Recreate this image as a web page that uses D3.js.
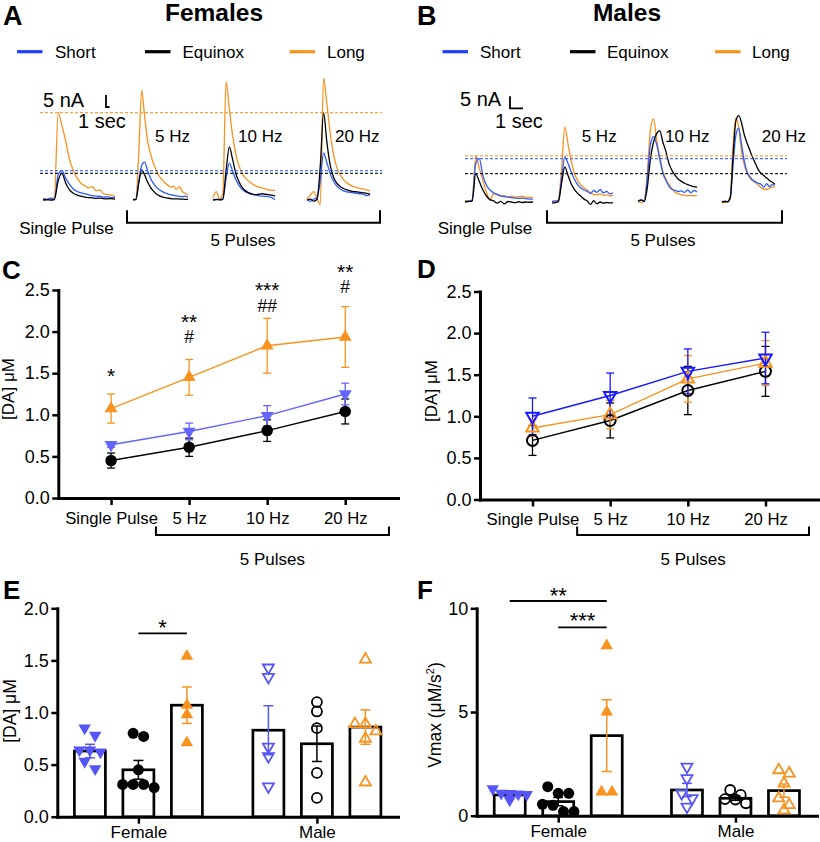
<!DOCTYPE html>
<html><head><meta charset="utf-8">
<script src="https://cdn.jsdelivr.net/npm/d3@7"></script>
<style>
body{margin:0;background:#fff;}
svg{display:block;font-family:"Liberation Sans",Arial,Helvetica,sans-serif;}
</style></head><body>
<svg id="fig" width="820" height="842"></svg>
<script>
// ================= DATA =================
const conditions = ["Short", "Equinox", "Long"];
const stimuli = ["Single Pulse", "5 Hz", "10 Hz", "20 Hz"];
const sexes = ["Female", "Male"];

// Panels A/B: representative FSCV traces (nA), one array per stimulation (Single, 5, 10, 20 Hz)
const femaleTraceShort = [
  [0.6, 0.3, 0.8, 0.2, 10.5, 12.2, 9.0, 6.5, 4.6, 3.6, 3.0, 2.6, 2.2, 1.8, 1.6, 1.5, 1.2, 1.3, 1.0, 1.1],
  [0.3, 0.4, 8.0, 14.5, 15.8, 12.5, 9.2, 7.0, 5.4, 4.4, 3.6, 3.0, 2.6, 2.2, 2.0, 1.7, 1.5, 1.4, 1.6, 1.2],
  [0.1, 0.3, 0.2, 0.4, 9.0, 15.4, 12.0, 8.5, 6.0, 4.4, 3.4, 2.8, 2.3, 2.0, 1.8, 1.6, 1.5, 1.4, 1.0, 0.2],
  [0.2, -0.6, 0.4, 0.8, 8.0, 19.6, 15.5, 11.0, 7.8, 5.8, 4.6, 3.8, 3.4, 3.2, 3.0, 2.8, 2.6, 2.4, 1.8, 2.2]
];
const femaleTraceEquinox = [
  [0.0, 0.1, 0.0, 0.2, 8.0, 11.1, 7.0, 4.2, 2.8, 2.0, 1.6, 1.2, 1.0, 0.9, 0.7, 0.8, 0.6, 0.5, 0.6, 0.4],
  [0.1, 0.2, 7.0, 12.5, 10.5, 7.6, 5.4, 3.8, 2.6, 1.8, 1.3, 1.0, 0.8, 0.6, 0.5, 0.5, 0.4, 0.4, 0.3, 0.3],
  [0.0, 0.2, 0.1, 0.3, 12.0, 22.1, 17.0, 11.0, 7.5, 5.2, 3.8, 3.0, 2.5, 2.2, 2.4, 2.6, 2.4, 2.2, 2.0, 1.6],
  [0.0, 0.4, -0.5, 0.2, 14.0, 36.3, 24.0, 14.5, 9.5, 7.0, 5.6, 4.8, 4.2, 3.8, 3.5, 3.4, 3.2, 3.0, 2.8, 2.4]
];
const femaleTraceLong = [
  [0.4, 0.2, 0.6, 1.0, 36.4, 31.0, 24.5, 16.8, 12.4, 9.1, 7.0, 6.0, 5.0, 5.6, 3.9, 4.2, 2.6, 2.2, 2.0, 1.4],
  [0.2, 0.5, 20.0, 45.8, 35.0, 25.0, 19.5, 15.5, 12.5, 10.0, 8.5, 7.2, 6.2, 5.4, 5.8, 4.4, 5.6, 3.6, 2.8, 2.2],
  [1.0, 3.5, 0.5, 2.5, 49.2, 38.0, 27.0, 19.0, 14.0, 11.0, 9.0, 7.8, 6.8, 6.0, 5.4, 5.0, 4.6, 4.2, 4.0, 4.0],
  [0.5, 2.0, 3.5, 0.8, -2.0, 50.8, 40.0, 28.0, 19.0, 13.5, 10.5, 8.5, 7.2, 6.2, 5.6, 5.2, 4.8, 4.6, 4.2, 3.8]
];
const maleTraceShort = [
  [0.2, 0.4, 0.8, 16.0, 18.1, 11.0, 7.0, 5.0, 3.8, 3.2, 2.6, 2.2, 2.0, 1.8, 1.6, 1.5, 1.6, 1.4, 1.2, 1.2],
  [0.2, 0.4, 0.6, 10.0, 18.8, 16.0, 12.5, 9.5, 7.2, 5.8, 5.0, 4.4, 3.6, 4.8, 4.0, 5.2, 3.8, 4.4, 3.4, 3.8],
  [0.2, 1.0, 0.4, 10.0, 24.0, 27.2, 24.0, 18.0, 12.0, 9.0, 6.5, 5.2, 4.8, 4.4, 4.6, 4.0, 5.0, 3.8, 4.8, 4.2],
  [0.2, 0.4, 0.1, 2.0, 16.0, 28.0, 30.8, 24.0, 17.0, 12.5, 10.5, 9.2, 8.4, 7.8, 7.4, 6.2, 7.6, 6.4, 7.2, 7.0]
];
const maleTraceEquinox = [
  [0.1, 0.2, 0.4, 11.8, 8.5, 5.0, 2.5, 1.0, 0.5, -0.5, 0.3, -0.8, 0.2, 0.0, -0.3, 0.1, -0.2, 0.0, -0.1, 0.0],
  [-0.5, -0.3, 0.2, 8.0, 14.6, 11.0, 7.5, 5.2, 3.6, 2.4, 1.2, 0.4, -1.0, 0.6, -0.8, 0.0, -0.5, -0.2, -0.4, -0.3],
  [0.3, 0.8, 0.2, 6.0, 18.0, 25.0, 28.5, 29.7, 25.0, 21.0, 16.0, 13.0, 11.0, 9.5, 8.6, 7.8, 7.2, 6.8, 6.4, 6.2],
  [0.0, 0.2, 0.1, 2.0, 20.0, 34.0, 36.0, 33.0, 28.0, 24.5, 21.5, 18.5, 16.0, 13.5, 12.0, 11.0, 10.0, 9.0, 8.2, 7.5]
];
const maleTraceLong = [
  [0.5, 0.3, 1.0, 19.2, 14.0, 9.0, 4.0, 0.8, 3.5, 3.0, 2.5, 2.6, 2.2, 2.4, 2.0, 2.2, 2.4, 2.0, 1.8, 2.0],
  [0.5, 0.3, 1.0, 14.0, 31.3, 24.0, 17.0, 12.0, 9.0, 7.0, 5.8, 5.0, 3.8, 3.2, 3.0, 3.4, 2.8, 3.0, 2.6, 2.8],
  [0.2, -0.3, 0.5, 12.0, 30.0, 34.6, 26.0, 19.0, 13.0, 9.5, 7.2, 5.4, 4.0, 3.4, 3.0, 2.8, 2.6, 2.8, 2.6, 2.8],
  [0.0, -0.2, 0.2, 3.0, 24.0, 35.0, 31.0, 21.0, 15.5, 12.0, 10.0, 8.8, 8.0, 7.0, 6.0, 5.4, 5.2, 5.8, 6.2, 6.4]
];

// Panel C: females, [DA] (µM), mean and SEM per stimulation
const femaleShortMean = [0.64, 0.80, 0.99, 1.25];
const femaleShortSEM = [0.03, 0.10, 0.12, 0.13];
const femaleEquinoxMean = [0.45, 0.61, 0.81, 1.04];
const femaleEquinoxSEM = [0.09, 0.11, 0.13, 0.15];
const femaleLongMean = [1.075, 1.45, 1.83, 1.935];
const femaleLongSEM = [0.175, 0.215, 0.33, 0.365];
const femaleStars = ["*", "**", "***", "**"];
const femaleHashes = ["", "#", "##", "#"];

// Panel D: males
const maleShortMean = [1.00, 1.25, 1.54, 1.70];
const maleShortSEM = [0.22, 0.27, 0.27, 0.31];
const maleEquinoxMean = [0.71, 0.95, 1.31, 1.54];
const maleEquinoxSEM = [0.18, 0.21, 0.29, 0.30];
const maleLongMean = [0.86, 1.02, 1.45, 1.64];
const maleLongSEM = [0.10, 0.17, 0.28, 0.27];

// Panel E: single-pulse [DA] (µM), individual animals
const daFemaleShort = [0.85, 0.78, 0.64, 0.64, 0.62, 0.53, 0.46];
const daFemaleEquinox = [0.80, 0.77, 0.45, 0.28, 0.31, 0.31, 0.31];
const daFemaleLong = [1.54, 1.07, 0.98, 0.71];
const daMaleShort = [1.43, 1.34, 0.67, 0.58, 0.29];
const daMaleEquinox = [1.10, 1.01, 0.85, 0.42, 0.18];
const daMaleLong = [1.51, 0.89, 0.89, 0.82, 0.75, 0.33];
const daFemaleBar = [0.63, 0.45, 1.07];
const daFemaleBarSEM = [0.065, 0.09, 0.175];
const daMaleBar = [0.83, 0.70, 0.86];
const daMaleBarSEM = [0.235, 0.17, 0.165];

// Panel F: Vmax (µM/s²), individual animals
const vmFemaleShort = [1.3, 1.08, 1.06, 1.04, 1.02, 0.75];
const vmFemaleEquinox = [1.4, 1.08, 1.08, 0.55, 0.5, 0.2, 0.2];
const vmFemaleLong = [8.2, 5.0, 1.15, 1.15];
const vmMaleShort = [2.36, 1.8, 1.08, 0.84, 0.43];
const vmMaleEquinox = [1.24, 1.0, 0.8, 0.78, 0.6];
const vmMaleLong = [2.2, 2.04, 1.56, 0.84, 0.52, 0.27];
const vmFemaleBar = [1.0, 0.68, 3.86];
const vmFemaleBarSEM = [0.07, 0.2, 1.73];
const vmMaleBar = [1.24, 0.84, 1.21];
const vmMaleBarSEM = [0.32, 0.1, 0.32];

const daTicks = [0, 0.5, 1.0, 1.5, 2.0, 2.5];
const daBarTicks = [0, 0.5, 1.0, 1.5, 2.0];
const vmTicks = [0, 5, 10];

// ================= DRAWING =================
const FONT = '"Liberation Sans", Arial, Helvetica, sans-serif';
const ORANGE = "#f7931e";
const TRACE_BLUE = "#2e5cff";
const LEG_BLUE = "#1f3dff";
const C_BLUE = "#6464ff";
const D_BLUE = "#1818ff";
const E_BLUE = "#5656f8";
const svg = d3.select("#fig");

function txt(g, x, y, s, size, o = {}) {
  return g.append("text").attr("x", x).attr("y", y).attr("font-size", size)
    .attr("text-anchor", o.anchor || "start").attr("font-weight", o.weight || "normal")
    .attr("fill", o.fill || "#000").text(s);
}
function hline(g, x1, x2, y, color, w, dash) {
  const l = g.append("line").attr("x1", x1).attr("x2", x2).attr("y1", y).attr("y2", y)
    .attr("stroke", color).attr("stroke-width", w);
  if (dash) l.attr("stroke-dasharray", dash);
  return l;
}
function vline(g, x, y1, y2, color, w) {
  return g.append("line").attr("x1", x).attr("x2", x).attr("y1", y1).attr("y2", y2)
    .attr("stroke", color).attr("stroke-width", w);
}
function bracket(g, x1, x2, y, up) {
  g.append("path").attr("d", `M${x1},${y - up}V${y}H${x2}V${y - up}`)
    .attr("fill", "none").attr("stroke", "#000").attr("stroke-width", 2);
}
function styleAxis(g, size) {
  g.attr("font-family", FONT).attr("font-size", size);
  g.select(".domain").attr("stroke-width", 3).attr("stroke-linecap", "square");
  g.selectAll(".tick line").attr("stroke-width", 2.5);
  g.selectAll(".tick text").attr("fill", "#000");
}
function marker(g, type, cx, cy, size, color, filled, sw) {
  let el;
  if (type === "circle") {
    el = g.append("circle").attr("cx", cx).attr("cy", cy).attr("r", size / 2);
  } else {
    const s = size, h = s * 0.866;
    const p = type === "up"
      ? [[0, -2 * h / 3], [s / 2, h / 3], [-s / 2, h / 3]]
      : [[0, 2 * h / 3], [s / 2, -h / 3], [-s / 2, -h / 3]];
    el = g.append("path").attr("d", "M" + p.map(q => `${cx + q[0]},${cy + q[1]}`).join("L") + "Z");
  }
  if (filled) el.attr("fill", color).attr("stroke", "none");
  else el.attr("fill", "none").attr("stroke", color).attr("stroke-width", sw || 2);
  return el;
}
function errBar(g, cx, yTop, yBot, color, cap, w) {
  vline(g, cx, yTop, yBot, color, w);
  hline(g, cx - cap / 2, cx + cap / 2, yTop, color, w);
  hline(g, cx - cap / 2, cx + cap / 2, yBot, color, w);
}

// ---------- Panels A & B ----------
function drawTraces(cfg) {
  const g = svg.append("g");
  const y = d3.scaleLinear().domain([0, 5]).range([cfg.baseline, cfg.baseline - 12]);
  const series = [
    { data: cfg.long, color: ORANGE },
    { data: cfg.short, color: TRACE_BLUE },
    { data: cfg.equinox, color: "#000" }
  ];
  cfg.windows.forEach((w, k) => {
    const x = d3.scaleLinear().domain([0, 19]).range(w);
    const line = d3.line().x((d, i) => x(i)).y(d => y(d)).curve(d3.curveMonotoneX);
    series.forEach(s => {
      g.append("path").attr("d", line(s.data[k])).attr("fill", "none")
        .attr("stroke", s.color).attr("stroke-width", 1.3).attr("stroke-linejoin", "round");
    });
  });
  // dashed reference lines at single-pulse peaks
  series.forEach(s => {
    hline(g, cfg.dash[0], cfg.dash[1], y(d3.max(s.data[0])), s.color, 1.3, "3,2").attr("opacity", 0.85);
  });
  // scale bar
  const sb = cfg.scaleBar;
  const ys = d3.scaleLinear().domain([0, 5]).range([sb.y, sb.y - 12]);
  g.append("path").attr("d", `M${sb.x},${ys(5)}V${ys(0)}H${sb.x + sb.w}`)
    .attr("fill", "none").attr("stroke", "#000").attr("stroke-width", 1.8);
  txt(g, sb.nAx, sb.nAy, "5 nA", 20);
  txt(g, sb.sx, sb.sy, "1 sec", 20);
  // stimulation labels
  cfg.hzLabels.forEach((l, i) => txt(g, l, 142, stimuli[i + 1], 17));
  txt(g, cfg.singleX, 233.5, "Single Pulse", 17, { anchor: "middle" });
  bracket(g, cfg.br[0], cfg.br[1], 222.7, 12.5);
  txt(g, cfg.pulsesX, 245.5, "5 Pulses", 17, { anchor: "middle" });
  // legend
  const legColors = [LEG_BLUE, "#000", ORANGE];
  conditions.forEach((c, i) => {
    hline(g, cfg.leg[i], cfg.leg[i] + 25.5, 51.7, legColors[i], 3.2);
    txt(g, cfg.legText[i], 57.5, c, 17);
  });
  txt(g, cfg.titleX, 20.5, cfg.title, 24.5, { anchor: "middle", weight: "bold" });
  txt(g, cfg.letterX, 25, cfg.letter, 27, { weight: "bold" });
}

drawTraces({
  baseline: 200, short: femaleTraceShort, equinox: femaleTraceEquinox, long: femaleTraceLong,
  windows: [[43, 115], [133, 188], [213, 275], [307, 370]], dash: [40, 382],
  scaleBar: { x: 106, y: 107, w: 3.5, nAx: 43, nAy: 107, sx: 78, sy: 128.3 },
  hzLabels: [155, 238, 335], singleX: 66.5, br: [127, 380], pulsesX: 243,
  leg: [17, 145, 289.5], legText: [55, 182.5, 327], titleX: 214, title: "Females", letterX: 3, letter: "A"
});
drawTraces({
  baseline: 202, short: maleTraceShort, equinox: maleTraceEquinox, long: maleTraceLong,
  windows: [[465, 533], [552, 613], [638, 697], [722, 775]], dash: [465, 787],
  scaleBar: { x: 510, y: 108.3, w: 13, nAx: 460, nAy: 106, sx: 495, sy: 128.3 },
  hzLabels: [581.7, 665, 761.7], singleX: 485, br: [547, 782], pulsesX: 663,
  leg: [442.5, 570, 715], legText: [480, 607, 752], titleX: 627, title: "Males", letterX: 417, letter: "B"
});

// ---------- Panels C & D ----------
function drawLinePanel(p) {
  const g = svg.append("g");
  const x = d3.scalePoint().domain(stimuli).range([p.ax, p.xEnd]).padding(0.676);
  const y = d3.scaleLinear().domain([0, 2.5]).range([p.y0, p.y1]);
  const ya = g.append("g").attr("transform", `translate(${p.ax},0)`)
    .call(d3.axisLeft(y).tickValues(daTicks).tickFormat(d3.format(".1f")).tickSize(6).tickSizeOuter(0).tickPadding(2.5));
  styleAxis(ya, 18);
  const xa = g.append("g").attr("transform", `translate(0,${p.y0})`)
    .call(d3.axisBottom(x).tickSize(7).tickSizeOuter(0).tickPadding(7));
  styleAxis(xa, 16.7);

  const line = d3.line().x((d, i) => x(stimuli[i])).y(d => y(d));
  p.series.forEach(s => {
    g.append("path").attr("d", line(s.mean)).attr("fill", "none")
      .attr("stroke", s.color).attr("stroke-width", 1.4);
  });
  p.series.forEach(s => {
    s.mean.forEach((m, i) => {
      errBar(g, x(stimuli[i]), y(m + s.sem[i]), y(m - s.sem[i]), s.color, 8, 1.3);
    });
  });
  p.series.forEach(s => {
    s.mean.forEach((m, i) => marker(g, s.marker, x(stimuli[i]), y(m), s.size, s.color, s.filled, 2));
  });
  const st = x.step();
  const b0 = x("5 Hz") - 0.425 * st, b1 = x("20 Hz") + 0.56 * st;
  bracket(g, b0, b1, 535, 8.5);
  txt(g, (b0 + b1) / 2, 565, "5 Pulses", 17, { anchor: "middle" });
  g.append("text").attr("transform", `translate(${p.labX},${p.labY}) rotate(-90)`)
    .attr("text-anchor", "middle").attr("font-size", 17).text("[DA] μM");
  txt(g, p.letterX, p.letterY, p.letter, 26, { weight: "bold" });
  if (p.stars) {
    const starY = [382.5, 329, 297, 279];
    const hashY = [0, 343, 312, 293];
    stimuli.forEach((s, i) => {
      txt(g, x(s), starY[i], p.stars[i], 21, { anchor: "middle" });
      if (p.hashes[i]) txt(g, x(s), hashY[i], p.hashes[i], 17.5, { anchor: "middle" });
    });
  }
}

drawLinePanel({
  ax: 58.3, xEnd: 398, y0: 498, y1: 290, labX: 14, labY: 389, letterX: 2, letterY: 279, letter: "C",
  stars: femaleStars, hashes: femaleHashes,
  series: [
    { mean: femaleEquinoxMean, sem: femaleEquinoxSEM, color: "#000", marker: "circle", size: 11.5, filled: true },
    { mean: femaleShortMean, sem: femaleShortSEM, color: C_BLUE, marker: "down", size: 13, filled: true },
    { mean: femaleLongMean, sem: femaleLongSEM, color: ORANGE, marker: "up", size: 13, filled: true }
  ]
});
drawLinePanel({
  ax: 480, xEnd: 818, y0: 499.5, y1: 291.5, labX: 437, labY: 391, letterX: 417, letterY: 278, letter: "D",
  series: [
    { mean: maleEquinoxMean, sem: maleEquinoxSEM, color: "#000", marker: "circle", size: 11, filled: false },
    { mean: maleLongMean, sem: maleLongSEM, color: ORANGE, marker: "up", size: 12.5, filled: false },
    { mean: maleShortMean, sem: maleShortSEM, color: D_BLUE, marker: "down", size: 12.5, filled: false }
  ]
});

// ---------- Panels E & F ----------
function swarm(values, y, spacing, maxSpan) {
  const pts = values.map(v => ({ v, py: y(v) })).sort((a, b) => a.py - b.py);
  const rows = [];
  pts.forEach(p => {
    const r = rows[rows.length - 1];
    if (r && p.py - r[0].py < spacing * 0.8) r.push(p); else rows.push([p]);
  });
  rows.forEach(r => {
    const sp = r.length > 1 ? Math.min(spacing, maxSpan / (r.length - 1)) : 0;
    r.forEach((p, i) => p.dx = (i - (r.length - 1) / 2) * sp);
  });
  return pts;
}

function drawBarPanel(p) {
  const g = svg.append("g");
  const xg = d3.scalePoint().domain(sexes).range([p.ax, p.xEnd]).padding(p.pad);
  const xi = d3.scalePoint().domain(conditions).range([-48.5, 48.5]);
  const y = d3.scaleLinear().domain([0, p.max]).range([p.y0, p.y1]);
  const ya = g.append("g").attr("transform", `translate(${p.ax},0)`)
    .call(d3.axisLeft(y).tickValues(p.ticks).tickFormat(d3.format(p.fmt)).tickSize(6).tickSizeOuter(0).tickPadding(2.5));
  styleAxis(ya, 18);
  const xa = g.append("g").attr("transform", `translate(0,${p.y0})`)
    .call(d3.axisBottom(xg).tickSize(7).tickSizeOuter(0).tickPadding(2.5));
  styleAxis(xa, 17);

  const colors = [E_BLUE, "#000", ORANGE];
  const shapes = ["down", "circle", "up"];
  sexes.forEach((sx, si) => {
    conditions.forEach((c, ci) => {
      const cx = xg(sx) + xi(c);
      const m = p.bars[si][ci];
      g.append("rect").attr("x", cx - 15.5).attr("y", y(m)).attr("width", 31).attr("height", y(0) - y(m))
        .attr("fill", "#fff").attr("stroke", "#000").attr("stroke-width", 2.7);
    });
  });
  sexes.forEach((sx, si) => {
    conditions.forEach((c, ci) => {
      const cx = xg(sx) + xi(c);
      const pts = swarm(p.points[si][ci], y, 10.5, 34);
      pts.forEach(q => marker(g, shapes[ci], cx + q.dx, q.py, shapes[ci] === "circle" ? (si ? 10 : 11) : (si ? 11 : 12.5),
        colors[ci], si === 0, 1.8));
      const m = p.bars[si][ci], e = p.sems[si][ci];
      errBar(g, cx, y(m + e), y(m - e), colors[ci], 10, 1.5);
    });
  });
  p.sig.forEach(s => {
    const x1 = xg("Female") + xi(s.from), x2 = xg("Female") + xi(s.to);
    hline(g, x1, x2, s.lineY, "#000", 1.8);
    txt(g, (x1 + x2) / 2 + (s.shift || 0), s.textY, s.label, 22, { anchor: "middle" });
  });
  const lab = g.append("text").attr("transform", `translate(${p.labX},${p.labY}) rotate(-90)`)
    .attr("text-anchor", "middle").attr("font-size", 17.5);
  if (p.vmax) {
    lab.append("tspan").text("Vmax (μM/s");
    lab.append("tspan").attr("font-size", 11).attr("dy", -7).text("2");
    lab.append("tspan").attr("dy", 7).text(")");
  } else lab.text("[DA] μM");
  txt(g, p.letterX, 598.5, p.letter, 26, { weight: "bold" });
}

drawBarPanel({
  ax: 57.3, xEnd: 398, pad: 0.4543, y0: 816.7, y1: 608.3, max: 2, ticks: daBarTicks, fmt: ".1f",
  bars: [daFemaleBar, daMaleBar], sems: [daFemaleBarSEM, daMaleBarSEM],
  points: [[daFemaleShort, daFemaleEquinox, daFemaleLong], [daMaleShort, daMaleEquinox, daMaleLong]],
  sig: [{ from: "Equinox", to: "Long", lineY: 633.3, textY: 635.2, label: "*" }],
  labX: 15.5, labY: 711, letterX: 3, letter: "E"
});
drawBarPanel({
  ax: 476.7, xEnd: 817, pad: 0.46, y0: 815.7, y1: 608.3, max: 10, ticks: vmTicks, fmt: "d",
  bars: [vmFemaleBar, vmMaleBar], sems: [vmFemaleBarSEM, vmMaleBarSEM],
  points: [[vmFemaleShort, vmFemaleEquinox, vmFemaleLong], [vmMaleShort, vmMaleEquinox, vmMaleLong]],
  sig: [{ from: "Short", to: "Long", lineY: 601, textY: 602.5, label: "**" },
        { from: "Equinox", to: "Long", lineY: 627.3, textY: 627.8, label: "***" }],
  labX: 440.5, labY: 715, letterX: 417, letter: "F", vmax: true
});
</script>
</body></html>
